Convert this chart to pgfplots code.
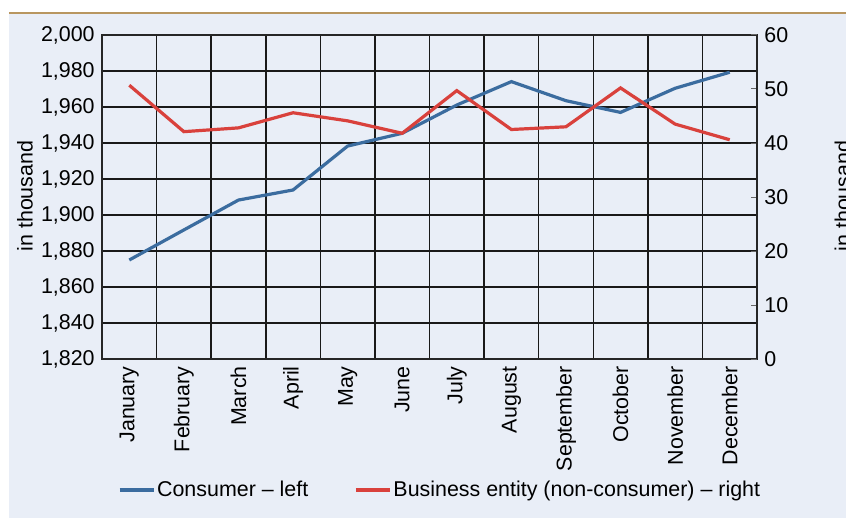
\documentclass[border=0pt]{standalone}
\usepackage{fontspec}
\setmainfont{Liberation Sans}
\usepackage{pgfplots}
\usepackage{pgfplotstable}
\pgfplotsset{compat=1.18}

\definecolor{bgBlue}{HTML}{E9EEF7}
\definecolor{ruleTan}{HTML}{B89660}
\definecolor{clrConsumer}{HTML}{3B6C9F}
\definecolor{clrBusiness}{HTML}{D9413C}

\newcommand{\chartfont}{\fontsize{21.5pt}{25pt}\selectfont}

% month index, consumer (left axis), business entity (right axis)
\pgfplotstableread{
m consumer business
0  1875.0 50.7
1  1891.7 42.1
2  1908.3 42.8
3  1913.9 45.6
4  1938.3 44.1
5  1945.4 41.8
6  1961.1 49.7
7  1974.1 42.5
8  1963.5 43.0
9  1957.0 50.2
10 1970.4 43.5
11 1979.3 40.6
}\datatable

\begin{document}
\chartfont
\begin{tikzpicture}
    % panel background and top rule
    \fill[bgBlue] (-93bp,-159bp) rectangle (744bp,345bp);
    \draw[ruleTan, line width=2bp] (-93bp,346bp) -- (744bp,346bp);

    \begin{axis}[
        scale only axis,
        width=655bp, height=324bp,
        at={(0,0)}, anchor=south west,
        xmin=-0.5, xmax=11.5,
        ymin=1820, ymax=2000,
        ytick={1820,1840,...,2000},
        xtick={0,...,11},
        xticklabels={January,February,March,April,May,June,July,August,September,October,November,December},
        xticklabel style={rotate=90, anchor=east},
        minor xtick={0.5,1.5,...,10.5},
        xminorgrids, ymajorgrids,
        major tick length=0pt, minor tick length=0pt,
        grid style={black!90, line width=1.5bp},
        minor grid style={black!90, line width=1.5bp},
        axis line style={black!85, line width=1.5bp},
        /pgf/number format/assume math mode=true,
        /pgf/number format/1000 sep={,},
        ticklabel style={font=\chartfont},
        ylabel={in thousand},
        ylabel style={at={(axis description cs:-0.1176,0.503)}, anchor=center},
        label style={font=\chartfont},
    ]
    \addplot[clrConsumer, line width=3.2bp] table[x=m, y=consumer] {\datatable};
    \end{axis}

    \begin{axis}[
        scale only axis,
        width=655bp, height=324bp,
        at={(0,0)}, anchor=south west,
        xmin=-0.5, xmax=11.5,
        ymin=0, ymax=60,
        ytick={0,10,...,60},
        axis x line=none,
        axis y line*=right,
        axis line style={black!85, line width=1.5bp},
        tick style={black!60, line width=1bp},
        major tick length=6bp,
        tick align=inside,
        /pgf/number format/assume math mode=true,
        ticklabel style={font=\chartfont},
        ylabel={in thousand},
        ylabel style={at={(axis description cs:1.1305,0.503)}, anchor=center, rotate=0},
        label style={font=\chartfont},
        legend columns=2,
        legend style={
            at={(axis description cs:0.024,-0.404)}, anchor=west,
            draw=none, fill=none, inner sep=0pt,
            font=\chartfont,
            /tikz/every even column/.append style={column sep=44bp},
        },
        legend image code/.code={\draw[#1] (0bp,0bp) -- (34bp,0bp);},
    ]
    \addlegendimage{clrConsumer, line width=3.2bp}
    \addlegendentry{Consumer – left}
    \addplot[clrBusiness, line width=3.2bp] table[x=m, y=business] {\datatable};
    \addlegendentry{Business entity (non-consumer) – right}
    \end{axis}

    \pgfresetboundingbox
    \useasboundingbox (-102bp,-159bp) rectangle (744bp,359bp);
\end{tikzpicture}
\end{document}
